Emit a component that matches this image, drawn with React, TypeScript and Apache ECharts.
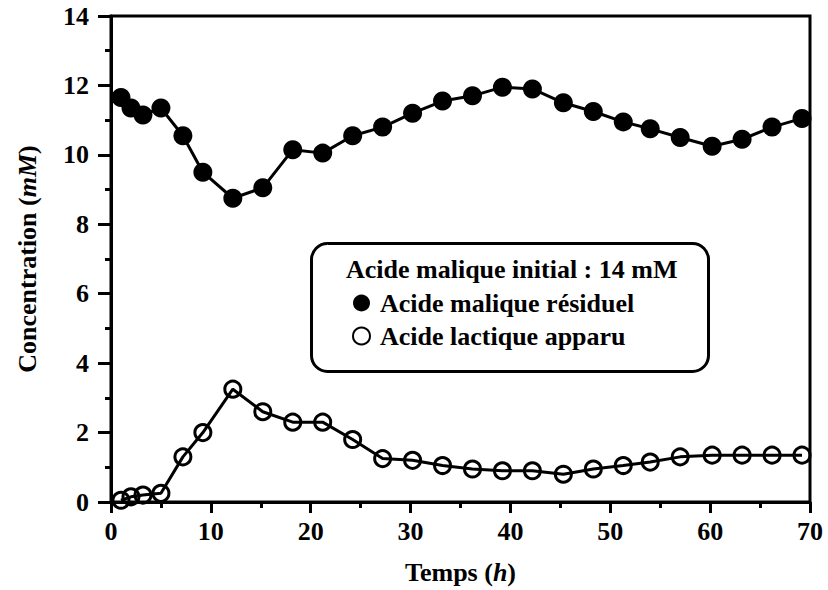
import React, { useEffect, useRef } from "react";
import * as echarts from "echarts";

const times = [1, 2, 3.2, 5, 7.2, 9.2, 12.2, 15.2, 18.2, 21.2, 24.2, 27.2, 30.2, 33.2, 36.2, 39.2, 42.2, 45.3, 48.3, 51.3, 54, 57, 60.2, 63.2, 66.2, 69.2];
const maliqueResiduel = [11.65, 11.35, 11.15, 11.35, 10.55, 9.5, 8.75, 9.05, 10.15, 10.05, 10.55, 10.8, 11.2, 11.55, 11.7, 11.95, 11.9, 11.5, 11.25, 10.95, 10.75, 10.5, 10.25, 10.45, 10.8, 11.05];
const lactiqueApparu = [0.05, 0.15, 0.2, 0.25, 1.3, 2.0, 3.25, 2.6, 2.3, 2.3, 1.8, 1.25, 1.2, 1.05, 0.95, 0.9, 0.9, 0.8, 0.95, 1.05, 1.15, 1.3, 1.35, 1.35, 1.35, 1.35];
const seriesNames = ["Acide malique résiduel", "Acide lactique apparu"];
const legendTitle = "Acide malique initial : 14 mM";

const FONT = "'Liberation Serif', 'Times New Roman', serif";

export default function App() {
  const ref = useRef<HTMLDivElement>(null);
  useEffect(() => {
    if (!ref.current) return;
    const chart = echarts.init(ref.current, null, { renderer: "svg" });
    const axisLabel = { color: "#000", fontFamily: FONT, fontSize: 26, fontWeight: "bold" };
    const nameStyle = {
      color: "#000",
      fontFamily: FONT,
      fontSize: 26,
      fontWeight: "bold",
      rich: {
        i: { fontStyle: "italic", fontWeight: "bold", fontFamily: FONT, fontSize: 26, color: "#000" },
      },
    };
    chart.setOption({
      animation: false,
      backgroundColor: "#fff",
      grid: {
        left: 111,
        right: 18,
        top: 16,
        bottom: 88,
        show: true,
        borderColor: "#000",
        borderWidth: 3,
        backgroundColor: "transparent",
      },
      xAxis: {
        type: "value",
        min: 0,
        max: 70,
        interval: 10,
        name: "Temps ({i|h})",
        nameLocation: "middle",
        nameGap: 57,
        nameTextStyle: nameStyle,
        axisLine: { show: true, onZero: false, lineStyle: { color: "#000", width: 3 } },
        axisTick: { show: true, inside: false, length: 11, lineStyle: { color: "#000", width: 3 } },
        minorTick: { show: true, splitNumber: 2, length: 6, lineStyle: { color: "#000", width: 3 } },
        axisLabel: { ...axisLabel, margin: 16 },
        splitLine: { show: false },
      },
      yAxis: {
        type: "value",
        min: 0,
        max: 14,
        interval: 2,
        name: "Concentration ({i|mM})",
        nameLocation: "middle",
        nameGap: 71,
        nameRotate: 90,
        nameTextStyle: nameStyle,
        axisLine: { show: true, onZero: false, lineStyle: { color: "#000", width: 3 } },
        axisTick: { show: true, inside: false, length: 13, lineStyle: { color: "#000", width: 3 } },
        minorTick: { show: true, splitNumber: 2, length: 6, lineStyle: { color: "#000", width: 3 } },
        axisLabel: { ...axisLabel, margin: 22 },
        splitLine: { show: false },
      },
      legend: {
        orient: "vertical",
        left: 352,
        top: 290,
        padding: 0,
        itemGap: 7,
        itemWidth: 17,
        itemHeight: 17,
        icon: "circle",
        z: 10,
        data: seriesNames,
        textStyle: {
          color: "#000",
          fontFamily: FONT,
          fontSize: 26,
          fontWeight: "bold",
          padding: [0, 0, 0, 5],
        },
      },
      graphic: [
        {
          type: "rect",
          left: 310,
          top: 242,
          shape: { width: 397, height: 128, r: 16 },
          style: { fill: "#fff", stroke: "#000", lineWidth: 3 },
          z: 5,
        },
        {
          type: "text",
          left: 346,
          top: 256,
          style: { text: legendTitle, fill: "#000", font: `bold 26px ${FONT}` },
          z: 6,
        },
      ],
      series: [
        {
          name: seriesNames[0],
          type: "line",
          data: times.map((t, i) => [t, maliqueResiduel[i]]),
          symbol: "circle",
          symbolSize: 19,
          clip: false,
          lineStyle: { color: "#000", width: 3 },
          itemStyle: { color: "#000" },
          z: 3,
        },
        {
          name: seriesNames[1],
          type: "line",
          data: times.map((t, i) => [t, lactiqueApparu[i]]),
          symbol: "circle",
          symbolSize: 16,
          clip: false,
          lineStyle: { color: "#000", width: 3 },
          itemStyle: { color: "rgba(0,0,0,0)", borderColor: "#000", borderWidth: 3 },
          z: 3,
        },
      ],
    });
    return () => chart.dispose();
  }, []);
  return (
    <div
      ref={ref}
      style={{ position: "fixed", left: 0, top: 0, width: 828, height: 590, background: "#fff" }}
    />
  );
}
